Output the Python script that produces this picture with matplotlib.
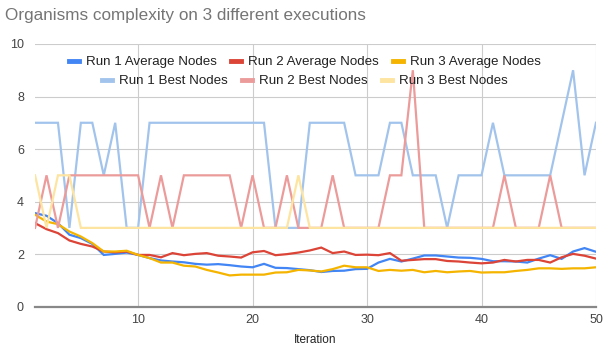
import matplotlib
matplotlib.use("Agg")
import matplotlib.pyplot as plt
from matplotlib.lines import Line2D

plt.rcParams['font.family'] = ['Liberation Sans', 'DejaVu Sans']

###########################################################
# data
###########################################################
iterations = list(range(1, 51))

run1_avg = [3.56, 3.46, 3.18, 2.74, 2.61, 2.39, 1.97, 2.01, 2.06, 1.97,
            1.85, 1.76, 1.72, 1.69, 1.63, 1.60, 1.62, 1.58, 1.53, 1.50,
            1.63, 1.48, 1.47, 1.43, 1.39, 1.32, 1.36, 1.37, 1.43, 1.44,
            1.68, 1.82, 1.72, 1.83, 1.95, 1.95, 1.91, 1.87, 1.86, 1.82,
            1.73, 1.73, 1.72, 1.68, 1.83, 1.96, 1.82, 2.10, 2.23, 2.09]

run2_avg = [3.18, 2.95, 2.80, 2.52, 2.39, 2.29, 2.10, 2.07, 2.10, 1.97,
            1.97, 1.88, 2.04, 1.96, 2.01, 2.04, 1.94, 1.91, 1.87, 2.07,
            2.12, 1.96, 2.00, 2.06, 2.14, 2.25, 2.04, 2.10, 1.97, 1.98,
            1.96, 2.04, 1.75, 1.78, 1.81, 1.81, 1.74, 1.72, 1.68, 1.65,
            1.68, 1.78, 1.72, 1.78, 1.78, 1.68, 1.88, 2.01, 1.94, 1.83]

run3_avg = [3.50, 3.24, 3.14, 2.86, 2.67, 2.42, 2.10, 2.10, 2.13, 1.97,
            1.85, 1.68, 1.68, 1.56, 1.53, 1.40, 1.30, 1.19, 1.22, 1.22,
            1.22, 1.30, 1.31, 1.40, 1.38, 1.34, 1.43, 1.56, 1.50, 1.50,
            1.36, 1.40, 1.37, 1.40, 1.31, 1.36, 1.31, 1.34, 1.36, 1.30,
            1.31, 1.31, 1.36, 1.40, 1.46, 1.46, 1.44, 1.46, 1.46, 1.50]

run1_best = [7, 7, 7, 3, 7, 7, 5, 7, 3, 3,
             7, 7, 7, 7, 7, 7, 7, 7, 7, 7,
             7, 3, 3, 3, 7, 7, 7, 7, 5, 5,
             5, 7, 7, 5, 5, 5, 3, 5, 5, 5,
             7, 5, 5, 5, 5, 5, 7, 9, 5, 7]

run2_best = [3, 5, 3, 5, 5, 5, 5, 5, 5, 5,
             3, 5, 3, 5, 5, 5, 5, 5, 3, 5,
             3, 3, 5, 3, 3, 3, 5, 3, 3, 3,
             3, 5, 5, 9, 3, 3, 3, 3, 3, 3,
             3, 5, 3, 3, 3, 5, 3, 3, 3, 3]

run3_best = [5, 3, 5, 5, 3, 3, 3, 3, 3, 3,
             3, 3, 3, 3, 3, 3, 3, 3, 3, 3,
             3, 3, 3, 5, 3, 3, 3, 3, 3, 3,
             3, 3, 3, 3, 3, 3, 3, 3, 3, 3,
             3, 3, 3, 3, 3, 3, 3, 3, 3, 3]

series = [
    ("Run 1 Average Nodes", run1_avg, "#4285f4"),
    ("Run 2 Average Nodes", run2_avg, "#db4437"),
    ("Run 3 Average Nodes", run3_avg, "#f4b400"),
    ("Run 1 Best Nodes", run1_best, "#a2c4ec"),
    ("Run 2 Best Nodes", run2_best, "#ec9b9b"),
    ("Run 3 Best Nodes", run3_best, "#fde4a0"),
]

###########################################################
# figure
###########################################################
fig = plt.figure(figsize=(6.10, 3.48), dpi=100)
ax = fig.add_axes([0.0575, 0.1187, 0.9195, 0.755])

for name, vals, col in series:
    ax.plot(iterations, vals, color=col, lw=1.6, label=name,
            solid_joinstyle="miter")

ax.set_xlim(1, 50)
ax.set_ylim(0, 10)
ax.set_xticks([10, 20, 30, 40, 50])
ax.set_yticks([0, 2, 4, 6, 8, 10])
ax.grid(True, color="#cccccc", lw=0.8)
ax.set_axisbelow(True)
for s in ["top", "right", "left"]:
    ax.spines[s].set_visible(False)
ax.spines["bottom"].set_color("#888888")
ax.spines["bottom"].set_linewidth(1.6)
ax.tick_params(axis="x", length=0, labelsize=9, colors="#444444", pad=5)
ax.tick_params(axis="y", length=0, labelsize=9, colors="#444444", pad=8)
ax.set_xlabel("Iteration", fontsize=8.5, color="#222222", labelpad=6)

fig.text(0.008, 0.955, "Organisms complexity on 3 different executions",
         fontsize=12.3, color="#757575", ha="left", va="center")

# two centred legend rows, like the reference
def legend_row(items, ypos):
    handles = [Line2D([], [], color=c, lw=3.5) for _, _, c in items]
    labels = [n for n, _, _ in items]
    leg = fig.legend(handles, labels, loc="center", ncol=3,
                     bbox_to_anchor=(0.5, ypos), frameon=False,
                     fontsize=9.6, handlelength=0.75, handletextpad=0.5,
                     columnspacing=1.1, borderpad=0)
    for t in leg.get_texts():
        t.set_color("#222222")
    return leg

legend_row(series[:3], 1 - 62.3 / 348)
legend_row(series[3:], 1 - 81.0 / 348)

fig.savefig("out.png", dpi=100)
